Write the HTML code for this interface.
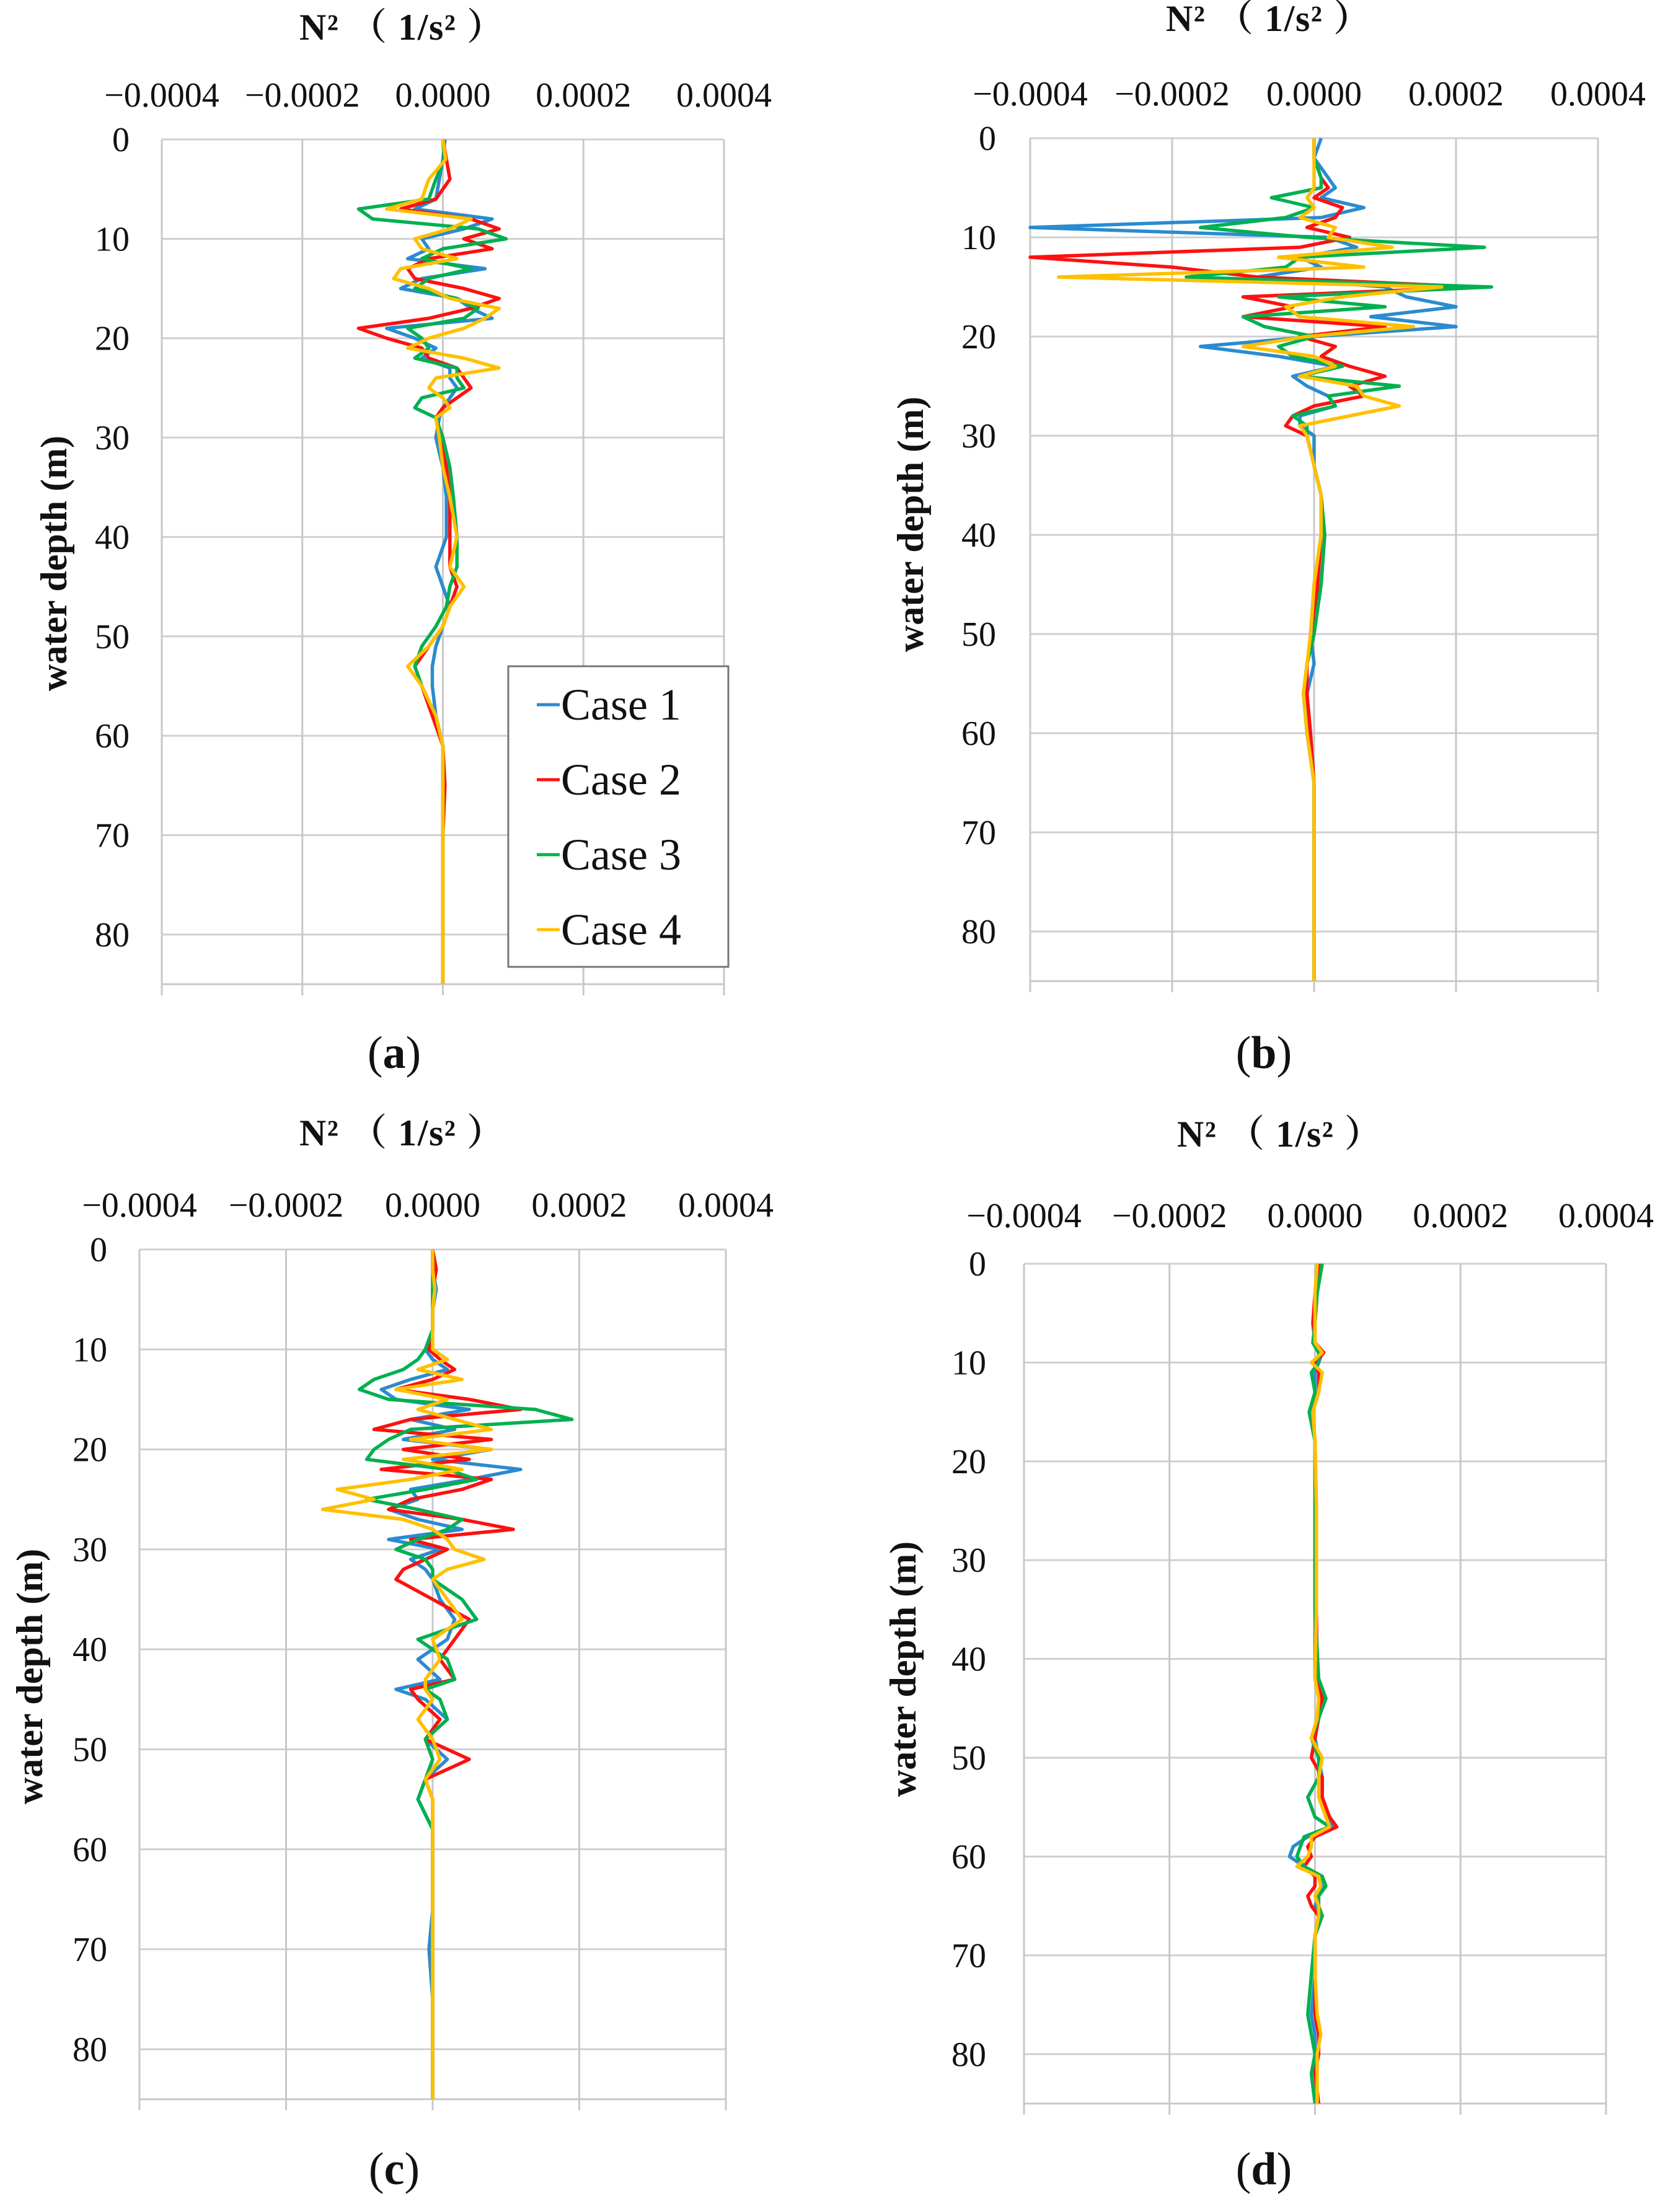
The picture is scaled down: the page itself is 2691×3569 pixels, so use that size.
<!DOCTYPE html>
<html><head><meta charset="utf-8"><style>
html,body{margin:0;padding:0;background:#fff}
svg{display:block;font-family:"Liberation Serif",serif}
</style></head><body>
<svg id="chart" width="2691" height="3569" viewBox="0 0 2691 3569" xmlns="http://www.w3.org/2000/svg"></svg>
<script>
const caseNames=["Case 1","Case 2","Case 3","Case 4"];
const caseColors=["#2a8bd0","#ff1010","#00b050","#ffc000"];
const xTickLabels=["\u22120.0004","\u22120.0002","0.0000","0.0002","0.0004"];
const xTickValues=[-40,-20,0,20,40]; // units of 1e-5
const yTickValues=[0,10,20,30,40,50,60,70,80];
// Panel (a)
const depthA=[0,2,4,6,7,8,9,10,11,12,13,14,15,16,17,18,19,20,21,22,23,24,25,26,27,28,30,33,36,40,43,45,47,49,51,53,55,58,61,65,70,75,80,85];
const a1=[0.3,0,-0.5,-1,-4,7,3,-3,-2,-5,6,-3,-6,2,4,7,-8,-4,-1,-3,1,1,2,1,0,-0.5,-1,0,0.5,0.5,-1,0,1,0,-1,-1.5,-1.5,-1,0,0,0,0,0,0];
const a2=[0,0.5,1,-1,-6,4,8,3,7,-2,-5,-4,3,8,4,-2,-12,-8,-3,-2,2,3,4,2,0,-1,-0.5,0.5,1,1,1,2,1,0,-2,-4,-3,-1.5,0,0.3,0,0,0,0];
const a3=[0,0.2,-1,-2,-12,-10,5,9,0,-3,4,-2,-4,2,5,3,-5,-3,-2,-4,2,2,3,-3,-4,-1,0,1,1.5,2,2,1,0.5,-1,-3,-4,-3,-1,0,0,0,0,0,0];
const a4=[0,0.4,-2,-3,-8,4,1,-4,-3,2,-6,-7,-2,1,8,6,3,-2,-5,3,8,-1,-2,0,1,-1,-0.5,0,1,2,1,3,1,0,-2,-5,-3,-1,0,0,0,0,0,0];
// Panel (b)
const depthB=[0,2,4,5,6,7,8,9,10,11,12,13,14,15,16,17,18,19,20,21,22,23,24,25,26,27,28,29,30,33,36,40,45,50,53,56,60,65,70,75,80,85];
const b1=[1,0,2,3,1,7,1,-40,2,6,-2,1,-8,10,13,20,8,20,0,-16,-5,3,-3,-1,2,3,-2,-2,0,0,1,1,0,-0.5,0,-1,-1,0,0,0,0,0];
const b2=[0,0,1,2,0,4,3,-1,5,-2,-40,-20,-8,23,-10,-3,-10,10,-2,3,1,5,10,5,7,0,-3,-4,-1,0,1,1,0.5,0,-1,-1,-0.5,0,0,0,0,0];
const b3=[0,0,1,1,-6,0,-4,-16,-1,24,-2,-4,-18,25,-5,10,-10,-7,0,-5,-3,4,-2,12,2,3,-3,-1,-1,0,1,1.5,1,0,-1,-1.5,-1,0,0,0,0,0];
const b4=[0,0,0,0,-1,0,-2,3,2,11,-5,7,-36,18,4,-4,-2,14,-1,-10,0,3,-2,6,7,12,5,-2,-1,0,1,1,0,-0.5,-1,-1.5,-1,0,0,0,0,0];
// Panel (c)
const depthC=[0,2,4,6,8,10,11,12,13,14,15,16,17,18,19,20,21,22,23,24,25,26,27,28,29,30,31,32,33,35,37,39,41,43,44,45,47,49,51,53,55,58,62,66,70,75,80,85];
const c1=[0,0,0.5,0,0,-1,0,2,-3,-7,-5,5,-3,3,-4,8,0,12,5,-3,-2,-6,-2,4,-6,1,-3,-1,0,1,3,2,-2,1,-5,-1,2,-1,2,-1,-2,0,0,0,-0.5,0,0,0];
const c2=[0,0.5,0,0,0,-0.5,1,3,0,-5,5,12,-3,-8,8,-4,5,-7,8,4,-3,-6,4,11,-3,2,-1,-4,-5,0,5,3,1,3,-3,-2,1,-1,5,-1,0,0,0,0,0,0,0,0];
const c3=[0,0,0,0,0,-1,-2,-4,-8,-10,-6,14,19,-3,-6,-8,-9,2,6,-1,-9,-2,4,2,-2,-5,-1,0,0,4,6,-2,2,3,-1,1,2,-1,0,-1,-2,0,0,0,0,0,0,0];
const c4=[0,0,0.3,0,0,0,2,-2,4,-5,2,-2,3,8,-3,8,-4,4,-3,-13,-8,-15,-4,0,2,3,7,2,0,2,4,0,1,-1,-1,0,-2,0,1,-1,0,0,0,0,0,0,0,0];
// Panel (d)
const depthD=[0,3,6,8,9,10,11,13,15,18,25,35,42,44,46,48,50,52,54,56,57,58,59,60,61,62,63,64,65,66,68,72,76,78,80,82,85];
const d1=[0.5,0.2,0,0,1,0.5,0,0,-0.5,0,0,0,0,1,0.5,0,0.5,1,1,1.5,2.5,-1,-3,-3.5,-1.5,0.5,1,0.5,0,1,0,0,-0.5,0,0,0,0.5];
const d2=[0.5,0,-0.3,0,1.2,0,0.5,0.5,-0.3,0,0.2,0.2,0.3,1,0.5,0,-0.5,1,1,2,3,0,-1,-0.5,-1.5,0,0,-1,-0.5,0.5,0,0,0,0.5,0.5,0,0.5];
const d3=[1,0.3,0,-0.3,0.5,0.5,-0.5,0,-0.8,0,0,0,0.5,1.5,0.5,-0.5,0.5,0.5,-1,0,2,-1.5,-2,-2.5,-1.5,1,1.5,0.5,0.5,1,0,-0.5,-1,-0.5,0,-0.5,0];
const d4=[0.3,0,0,0,1,-0.5,1,0.5,-0.3,0,0.2,0.2,0,0.5,0.3,-0.5,1,0.5,0.5,1.5,2,-0.5,-0.5,-1,-2.5,0.5,0.8,0,0.5,0.5,0,0,0.3,0.8,0.3,0.3,0.3];

const NS="http://www.w3.org/2000/svg";
const svg=document.getElementById('chart');
function mk(tag,attrs,parent,text){const e=document.createElementNS(NS,tag);for(const k in attrs)e.setAttribute(k,attrs[k]);if(text!==undefined)e.textContent=text;(parent||svg).appendChild(e);return e;}

const panels=[
 {id:'a',L:261,R:1168,T:225,B:1588,tx:648,ty:64,tky:172,ylx:209,yax:107,yay:909,lab:'a',labx:636,laby:1723,depth:depthA,series:[a1,a2,a3,a4],legend:true},
 {id:'b',L:1662,R:2578,T:223,B:1583,tx:2046,ty:50,tky:170,ylx:1607,yax:1489,yay:846,lab:'b',labx:2039,laby:1723,depth:depthB,series:[b1,b2,b3,b4]},
 {id:'c',L:225,R:1171,T:2016,B:3387,tx:648,ty:1848,tky:1963,ylx:173,yax:68,yay:2705,lab:'c',labx:636,laby:3524,depth:depthC,series:[c1,c2,c3,c4]},
 {id:'d',L:1652,R:2591,T:2039,B:3394,tx:2064,ty:1850,tky:1980,ylx:1591,yax:1477,yay:2693,lab:'d',labx:2039,laby:3524,depth:depthD,series:[d1,d2,d3,d4]}
];

panels.forEach(p=>{
 const g=mk('g',{});
 
 
 const xs=v=>p.L+(v+40)/80*(p.R-p.L);
 const ys=d=>p.T+d/85*(p.B-p.T);
 yTickValues.forEach(v=>{const l=mk('line',{x1:p.L,x2:p.R,y1:ys(v),y2:ys(v),stroke:'#d0d0d0','stroke-width':3},g);
  
  const t=mk('text',{x:p.ylx,y:ys(v)+19,'text-anchor':'end','font-size':56,fill:'#111'},g,String(v));
  });
 mk('line',{x1:p.L,x2:p.R,y1:p.B,y2:p.B,stroke:'#c8c8c8','stroke-width':3},g);
 xTickValues.forEach((v,i)=>{const l=mk('line',{x1:xs(v),x2:xs(v),y1:p.T,y2:p.B+18,stroke:'#c8c8c8','stroke-width':3},g);
  
  const t=mk('text',{x:xs(v),y:p.tky,'text-anchor':'middle','font-size':56,fill:'#111'},g,xTickLabels[i]);
  });
 const tt=mk('text',{x:p.tx-165,y:p.ty,'font-size':60,'font-weight':'bold',fill:'#111',textLength:330,lengthAdjust:'spacing'},g);
 
 tt.textContent='N\u00b2 \uff08 1/s\u00b2 \uff09';
 tt.setAttribute('font-family','"Liberation Serif","Noto Serif CJK SC",serif');
 const ya=mk('text',{x:0,y:0,'text-anchor':'middle','font-size':60,'font-weight':'bold',fill:'#111',transform:`translate(${p.yax},${p.yay}) rotate(-90)`},g,'water depth (m)');
 
 const pl=mk('text',{x:p.labx,y:p.laby,'text-anchor':'middle','font-size':74,fill:'#111'},g);
 
 pl.innerHTML='(<tspan font-weight="bold">'+p.lab+'</tspan>)';
 p.series.forEach((vals,si)=>{
  const pts=vals.map((v,i)=>xs(v).toFixed(1)+','+ys(p.depth[i]).toFixed(1)).join(' ');
  const pth=mk('polyline',{points:pts,fill:'none',stroke:caseColors[si],'stroke-width':5.5,'stroke-linejoin':'round'},g);
  
  
 });
 if(p.legend){
  const lg=mk('g',{},g);
  
  
  mk('rect',{x:820,y:1075,width:355,height:485,fill:'#fff',stroke:'#777','stroke-width':3},lg);
  caseNames.forEach((n,i)=>{const cy=1137+i*121;
   const e=mk('g',{},lg);
   
   
   mk('line',{x1:866,x2:903,y1:cy,y2:cy,stroke:caseColors[i],'stroke-width':5},e);
   mk('text',{x:905,y:cy+24,'font-size':72,fill:'#111'},e,n);});
 }
});
</script>
</body></html>
